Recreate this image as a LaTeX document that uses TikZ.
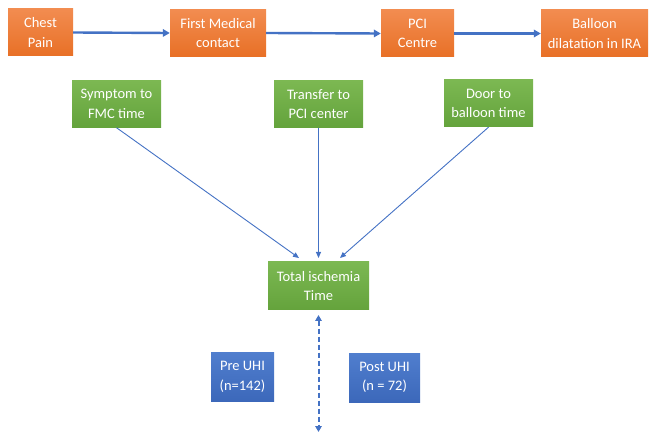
\documentclass[tikz,border=0pt]{standalone}
\usepackage{fontspec}
\setmainfont{Carlito}
\usetikzlibrary{arrows.meta,calc}
\definecolor{orangeA}{RGB}{242,140,80}
\definecolor{orangeB}{RGB}{232,112,38}
\definecolor{greenA}{RGB}{124,184,82}
\definecolor{greenB}{RGB}{100,163,60}
\definecolor{blueA}{RGB}{80,126,206}
\definecolor{blueB}{RGB}{60,104,186}
\definecolor{arrowblue}{RGB}{68,114,196}
\tikzset{
  box/.style={rectangle, inner sep=0pt, align=center, text=white,
    font=\fontsize{14.5}{19.5}\selectfont},
  obox/.style={box, top color=orangeA, bottom color=orangeB},
  gbox/.style={box, top color=greenA, bottom color=greenB},
  bbox/.style={box, top color=blueA, bottom color=blueB},
  thick arrow/.style={draw=arrowblue, line width=2.4pt,
    -{Triangle[length=7pt,width=7.5pt]}},
  thin arrow/.style={draw=arrowblue, line width=0.9pt,
    -{Triangle[length=6pt,width=5pt]}},
  dash arrow/.style={draw=arrowblue, line width=2pt, dash pattern=on 5pt off 3pt,
    {Triangle[length=6pt,width=6.5pt]}-{Triangle[length=6pt,width=6.5pt]}},
}
\begin{document}
\begin{tikzpicture}[x=1pt,y=-1pt]
\useasboundingbox (0,0) rectangle (649,433);
% top row
\node[obox, minimum width=65pt, minimum height=47pt] (cp) at (40.5,32.5) {Chest\\Pain};
\node[obox, minimum width=96pt, minimum height=47pt] (fmc) at (218,33) {First Medical\\contact};
\node[obox, minimum width=73pt, minimum height=47pt] (pci) at (417.5,33.5) {PCI\\Centre};
\node[obox, minimum width=107pt, minimum height=47pt] (bal) at (594.5,33.5) {Balloon\\dilatation in IRA};
% green row
\node[gbox, minimum width=89pt, minimum height=47pt] (sym) at (116.5,104) {Symptom to\\FMC time};
\node[gbox, minimum width=89pt, minimum height=47pt] (tra) at (318.5,104) {Transfer to\\PCI center};
\node[gbox, minimum width=89pt, minimum height=47pt] (door) at (488.5,103.5) {Door to\\balloon time};
% total
\node[gbox, minimum width=101pt, minimum height=48pt] (tot) at (318.5,286) {Total ischemia\\Time};
% blue
\node[bbox, minimum width=63pt, minimum height=49pt] (pre) at (242.5,377) {Pre UHI\\(n=142)};
\node[bbox, minimum width=71pt, minimum height=49pt] (post) at (384.5,377.5) {Post UHI\\(n = 72)};
% coordinates
\coordinate (t1) at (299,258);
\coordinate (t2) at (318.5,258);
\coordinate (t3) at (340,258);
\coordinate (d1) at (318.5,315);
\coordinate (d2) at (318.5,432);
% arrows
\draw[thick arrow] (cp.east) -- (fmc.west);
\draw[thick arrow] (fmc.east) -- (pci.west);
\draw[thick arrow] (pci.east) -- (bal.west);
\draw[thin arrow] (sym.south) -- (t1);
\draw[thin arrow] (tra.south) -- (t2);
\draw[thin arrow] (door.south) -- (t3);
\draw[dash arrow] (d1) -- (d2);
\end{tikzpicture}
\end{document}
